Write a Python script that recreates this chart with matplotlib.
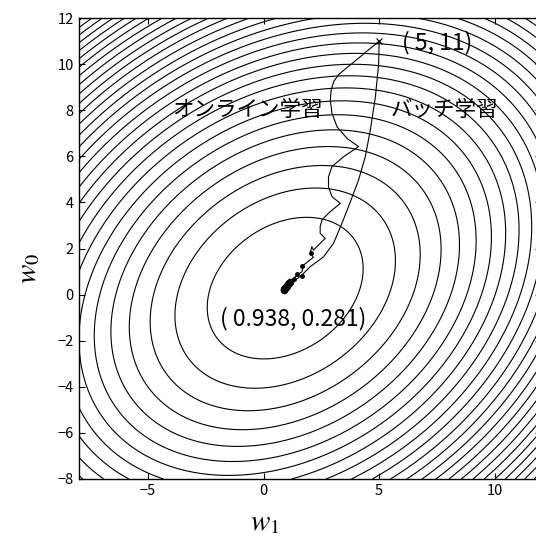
import numpy as np
import matplotlib
matplotlib.use("Agg")
import matplotlib.pyplot as plt

plt.rcParams['font.family'] = ['Noto Sans CJK JP', 'DejaVu Sans']
plt.rcParams['mathtext.fontset'] = 'stix'

# Error surface: quadratic form around the optimum
w_opt = (0.938, 0.281)          # (w1, w0)
quad_a, quad_b, quad_c = 0.83, -0.25, 1.0   # w1^2, cross, w0^2 coefficients
level_step = 8.72
n_levels = 36

w_start = (5, 11)

# Online (stochastic) learning trajectory
online_w1 = [5.00, 4.10, 3.25, 3.04, 2.93, 2.89, 2.96, 3.18, 3.61, 4.11, 3.46,
             2.96, 2.81, 2.81, 2.96, 3.32, 2.81, 2.53, 2.45, 2.45, 2.67, 2.16,
             2.09, 2.02, 2.16, 1.73, 1.66, 1.45, 1.23, 1.10, 0.94]
online_w0 = [11.00, 10.25, 9.55, 9.25, 8.90, 8.44, 7.87, 7.28, 6.78, 6.42, 5.98,
             5.55, 5.11, 4.68, 4.25, 3.96, 3.53, 3.24, 2.95, 2.66, 2.44, 1.93,
             2.08, 1.79, 1.62, 1.28, 0.99, 0.85, 0.63, 0.45, 0.27]
online_mark_w1 = [2.04, 1.66, 1.45, 1.66, 1.30]
online_mark_w0 = [1.81, 1.24, 0.91, 0.81, 0.67]

# Batch (steepest descent) trajectory
batch_w1 = [5.00, 4.98, 4.84, 4.62, 4.40, 4.11, 3.70, 3.39, 3.03, 2.60,
            2.02, 1.66, 1.30, 0.94]
batch_w0 = [11.00, 10.03, 8.59, 7.14, 5.98, 4.97, 3.88, 3.09, 2.23, 1.64,
            1.21, 0.85, 0.56, 0.27]
# final iterates crowding around the optimum
tail_w1 = [1.15, 1.10, 1.05, 1.01, 0.98, 0.96, 0.95, 0.94, 0.90, 0.87]
tail_w0 = [0.56, 0.50, 0.44, 0.39, 0.35, 0.32, 0.30, 0.28, 0.24, 0.21]

xlim = (-8, 12)
ylim = (-8, 12)
xticks = [-5, 0, 5, 10]
yticks = [-8, -6, -4, -2, 0, 2, 4, 6, 8, 10, 12]

fig = plt.figure(figsize=(5.36, 5.42), dpi=100)
ax = fig.add_axes([78.5 / 536, 63 / 542, (541 - 78.5) / 536, (479 - 18) / 542])

g1 = np.linspace(xlim[0], xlim[1], 500)
g0 = np.linspace(ylim[0], ylim[1], 500)
W1, W0 = np.meshgrid(g1, g0)
d1 = W1 - w_opt[0]
d0 = W0 - w_opt[1]
E = quad_a * d1 ** 2 + 2 * quad_b * d1 * d0 + quad_c * d0 ** 2
levels = level_step * np.arange(1, n_levels + 1)
ax.contour(W1, W0, E, levels=levels, colors='black', linewidths=0.8)

ax.plot(online_w1, online_w0, color='black', lw=0.8)
ax.plot(online_mark_w1, online_mark_w0, 'o', color='black', ms=2.5)
ax.plot(batch_w1, batch_w0, color='black', lw=0.8)
ax.plot(tail_w1, tail_w0, 'o', color='black', ms=4.5)
ax.plot([w_start[0]], [w_start[1]], 'x', color='black', ms=5, mew=0.8)

ax.text(w_start[0] + 1.0, w_start[1] - 0.05, '( 5, 11)', fontsize=16.5,
        va='center', ha='left')
ax.text(-0.69, 8.0, 'オンライン学習', fontsize=15.5, va='center', ha='center')
ax.text(7.84, 8.0, 'バッチ学習', fontsize=15.5, va='center', ha='center')
ax.text(-1.9, -1.04, '( %.3f, %.3f)' % w_opt, fontsize=16.5, va='center', ha='left')

ax.set_xlim(*xlim)
ax.set_ylim(*ylim)
ax.set_xticks(xticks)
ax.set_yticks(yticks)
ax.tick_params(direction='in', top=True, right=True, length=4, labelsize=10.5,
               width=0.8)
for s in ax.spines.values():
    s.set_linewidth(1.0)

fig.text(265 / 536, 1 - 522 / 542, r'$w_1$', fontsize=21, ha='center', va='center')
fig.text(28 / 536, 1 - 268 / 542, r'$w_0$', fontsize=21, ha='center', va='center',
         rotation=90)

fig.savefig('out.png', dpi=100)
